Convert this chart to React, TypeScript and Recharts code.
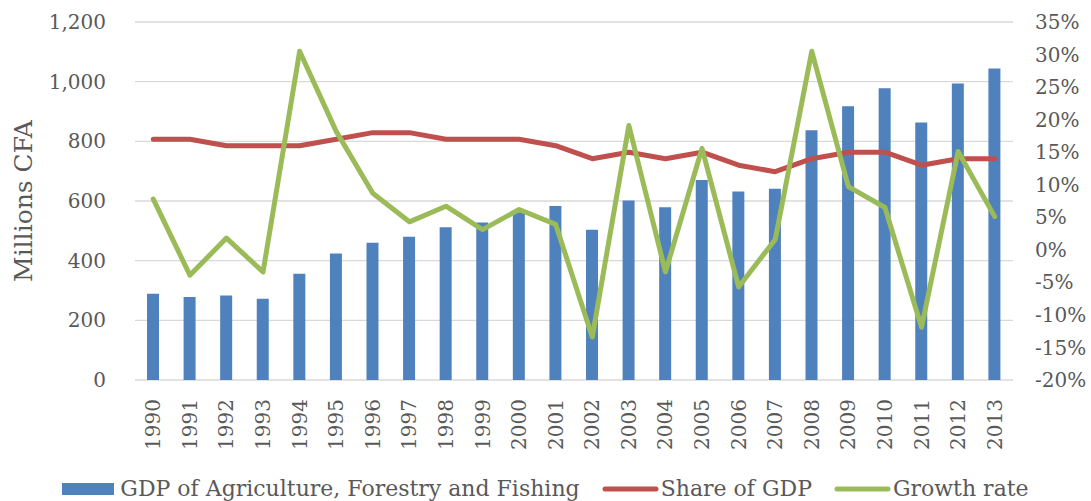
import React from 'react';
import { ComposedChart, Bar, Line, XAxis, YAxis, CartesianGrid, Legend } from 'recharts';

const years = ['1990','1991','1992','1993','1994','1995','1996','1997','1998','1999','2000','2001','2002','2003','2004','2005','2006','2007','2008','2009','2010','2011','2012','2013'];
const gdpAgri = [289, 278, 283, 272, 356, 424, 460, 480, 512, 528, 562, 583, 504, 602, 579, 670, 632, 641, 837, 918, 978, 863, 994, 1044];
const shareOfGdp = [17, 17, 16, 16, 16, 17, 18, 18, 17, 17, 17, 16, 14, 15, 14, 15, 13, 12, 14, 15, 15, 13, 14, 14];
const growthRate = [7.8, -3.9, 1.8, -3.4, 30.5, 18.2, 8.7, 4.3, 6.7, 3.1, 6.2, 3.9, -13.4, 19.1, -3.4, 15.6, -5.7, 1.6, 30.5, 9.7, 6.5, -11.9, 15.1, 5.1];
const leftTicks = [0, 200, 400, 600, 800, 1000, 1200];
const rightTicks = [-20, -15, -10, -5, 0, 5, 10, 15, 20, 25, 30, 35];

const seriesNames = {
  gdp: 'GDP of Agriculture, Forestry and Fishing',
  share: 'Share of GDP',
  growth: 'Growth rate',
};

const colors = { gdp: '#4F81BD', share: '#C0504D', growth: '#9BBB59' };

const data = years.map((y, i) => ({
  year: y,
  gdp: gdpAgri[i],
  share: shareOfGdp[i],
  growth: growthRate[i],
}));

const FONT = '"DejaVu Serif", serif';
const TEXT = '#595959';

const XTick = (props: any) => {
  const { x, y, payload } = props;
  return (
    <g transform={`translate(${x},${y})`}>
      <text
        transform="rotate(-90)"
        x={-17}
        y={0}
        textAnchor="end"
        dominantBaseline="central"
        fill={TEXT}
        fontFamily={FONT}
        fontSize={20}
      >
        {payload.value}
      </text>
    </g>
  );
};

const legendItems = [
  { value: seriesNames.gdp, type: 'rect', color: colors.gdp },
  { value: seriesNames.share, type: 'line', color: colors.share },
  { value: seriesNames.growth, type: 'line', color: colors.growth },
];

const LegendContent = (props: any) => {
  const { items } = props;
  return (
    <div
      style={{
        display: 'flex',
        justifyContent: 'center',
        alignItems: 'center',
        height: 41,
        boxSizing: 'border-box',
        paddingTop: 17,
        fontFamily: FONT,
        fontSize: 22,
        color: TEXT,
        whiteSpace: 'nowrap',
      }}
    >
      {(items || []).map((item: any, i: number) => (
        <div key={i} style={{ display: 'flex', alignItems: 'center', marginLeft: i === 0 ? 0 : 22 }}>
          {item.type === 'rect' ? (
            <div style={{ width: 52, height: 12, background: item.color, marginRight: 6 }} />
          ) : (
            <svg width={57} height={10} style={{ marginRight: 2 }}>
              <line x1={3} y1={5} x2={54} y2={5} stroke={item.color} strokeWidth={5} strokeLinecap="round" />
            </svg>
          )}
          <span style={{ lineHeight: '24px' }}>{item.value}</span>
        </div>
      ))}
    </div>
  );
};

export default function App() {
  return (
    <div style={{ position: 'absolute', left: 0, top: 0, width: 1091, height: 501, background: '#fff' }}>
      <ComposedChart
        width={1091}
        height={501}
        data={data}
        margin={{ top: 22, right: 0, left: 0, bottom: 0 }}
        barCategoryGap={0}
      >
        <CartesianGrid yAxisId="left" vertical={false} stroke="#D9D9D9" strokeWidth={1.3} />
        <XAxis
          dataKey="year"
          height={80}
          axisLine={false}
          tickLine={false}
          tickSize={0}
          interval={0}
          tick={<XTick />}
        />
        <YAxis
          yAxisId="left"
          width={135}
          domain={[0, 1200]}
          ticks={leftTicks}
          axisLine={false}
          tickLine={false}
          tickSize={0}
          tickMargin={29}
          tickFormatter={(v: number) => v.toLocaleString('en-US')}
          tick={{ fill: TEXT, fontFamily: FONT, fontSize: 20 }}
          label={{
            value: 'Millions CFA',
            angle: -90,
            position: 'insideLeft',
            offset: 23,
            style: { textAnchor: 'middle', fill: TEXT, fontFamily: FONT, fontSize: 25 },
          }}
        />
        <YAxis
          yAxisId="right"
          orientation="right"
          width={78}
          domain={[-20, 35]}
          ticks={rightTicks}
          axisLine={false}
          tickLine={false}
          tickSize={0}
          tickMargin={22}
          tickFormatter={(v: number) => `${v}%`}
          tick={{ fill: TEXT, fontFamily: FONT, fontSize: 20 }}
        />
        <Bar yAxisId="left" dataKey="gdp" name={seriesNames.gdp} fill={colors.gdp} barSize={12} isAnimationActive={false} />
        <Line
          yAxisId="right"
          type="linear"
          dataKey="share"
          name={seriesNames.share}
          stroke={colors.share}
          strokeWidth={5}
          strokeLinecap="round"
          strokeLinejoin="round"
          dot={false}
          activeDot={false}
          isAnimationActive={false}
        />
        <Line
          yAxisId="right"
          type="linear"
          dataKey="growth"
          name={seriesNames.growth}
          stroke={colors.growth}
          strokeWidth={5}
          strokeLinecap="round"
          strokeLinejoin="round"
          dot={false}
          activeDot={false}
          isAnimationActive={false}
        />
        <Legend
          verticalAlign="bottom"
          content={<LegendContent items={legendItems} />}
        />
      </ComposedChart>
    </div>
  );
}
